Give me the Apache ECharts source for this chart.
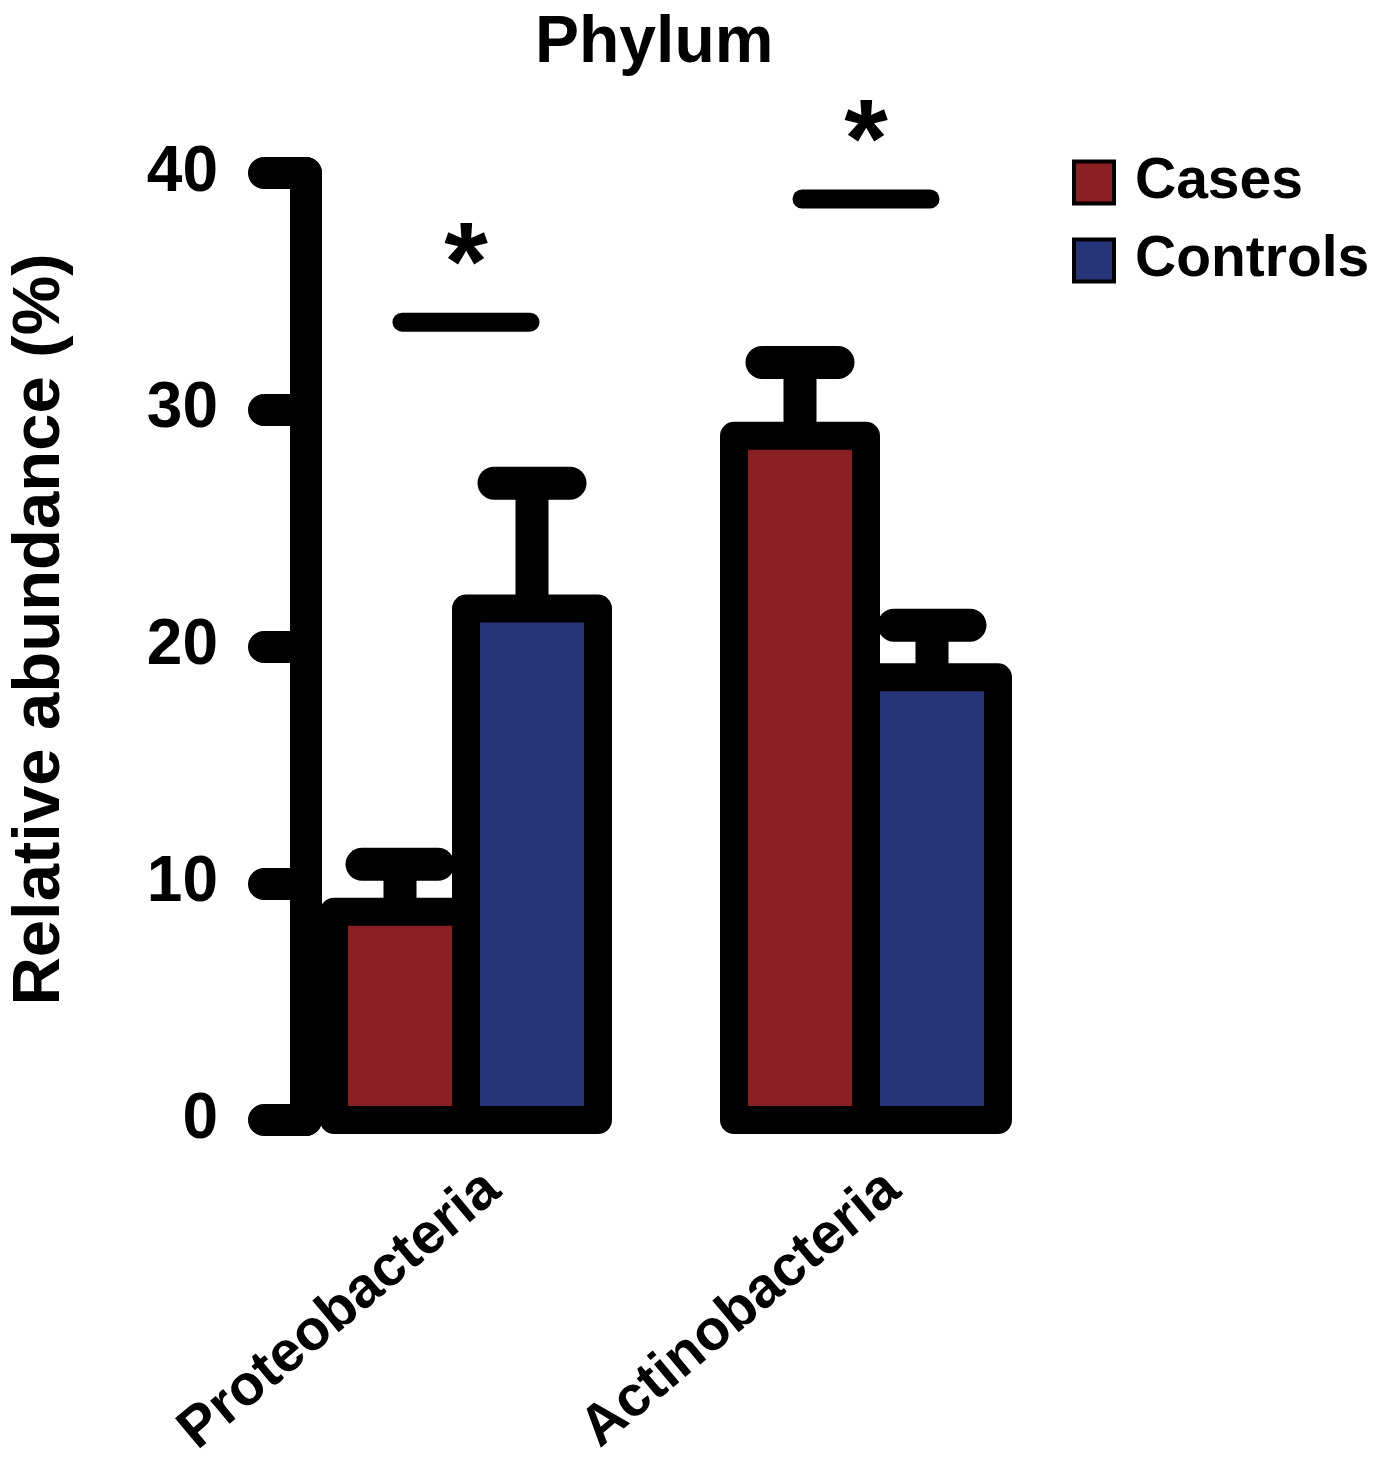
<!DOCTYPE html>
<html>
<head>
    <meta charset="UTF-8">
    <title>Phylum</title>
    <script src="https://cdn.jsdelivr.net/npm/echarts@6/dist/echarts.min.js"></script>
    <style>
        html, body { margin: 0; padding: 0; background: #fff; }
        #main { width: 1378px; height: 1460px; }
    </style>
</head>
<body>
<div id="main"></div>
<script>
    // data
    var categories = ['Proteobacteria', 'Actinobacteria'];
    var casesMean = [8.8, 28.9];
    var casesUpper = [10.8, 32.0];
    var controlsMean = [21.6, 18.7];
    var controlsUpper = [26.9, 20.9];
    var sigLevel = [33.7, 38.9];
    var yTicks = [0, 10, 20, 30, 40];

    var FONT = 'Liberation Sans, Arial, sans-serif';
    var BAR_W = 132;

    // bar with a thick outline centred on its edges, like the original plot
    function barRenderer(shift, fill) {
        return function (params, api) {
            var c = api.value(0);
            var top = api.coord([c, api.value(1)]);
            var base = api.coord([c, 0]);
            var x = top[0] + shift;
            return {
                type: 'rect',
                shape: { x: x - BAR_W / 2, y: top[1], width: BAR_W, height: base[1] - top[1] },
                style: { fill: fill, stroke: '#000', lineWidth: 28, lineJoin: 'round' }
            };
        };
    }

    // error bar: stem from mean to upper plus a round-capped whisker
    function errorRenderer(shift) {
        return function (params, api) {
            var c = api.value(0);
            var top = api.coord([c, api.value(2)]);
            var base = api.coord([c, api.value(1)]);
            var x = top[0] + shift;
            return {
                type: 'group',
                children: [
                    {
                        type: 'line',
                        shape: { x1: x, y1: base[1], x2: x, y2: top[1] },
                        style: { stroke: '#000', lineWidth: 33, lineCap: 'butt' }
                    },
                    {
                        type: 'line',
                        shape: { x1: x - 38, y1: top[1], x2: x + 38, y2: top[1] },
                        style: { stroke: '#000', lineWidth: 33, lineCap: 'round' }
                    }
                ]
            };
        };
    }

    function sigRenderer(params, api) {
        var p = api.coord([api.value(0), api.value(1)]);
        return {
            type: 'group',
            children: [
                {
                    type: 'line',
                    shape: { x1: p[0] - 64, y1: p[1], x2: p[0] + 64, y2: p[1] },
                    style: { stroke: '#000', lineWidth: 19, lineCap: 'round' }
                },
                {
                    type: 'text',
                    x: p[0],
                    y: p[1] - 53,
                    style: {
                        text: '*',
                        fill: '#000',
                        font: 'bold 112px ' + FONT,
                        textAlign: 'center',
                        textVerticalAlign: 'middle'
                    }
                }
            ]
        };
    }

    var myChart = echarts.init(document.getElementById('main'));

    var option = {
        backgroundColor: '#fff',
        animation: false,
        title: {
            text: 'Phylum',
            left: 530,
            top: 6,
            textStyle: { fontFamily: FONT, fontSize: 66, fontWeight: 'bold', color: '#000' }
        },
        legend: {
            data: ['Cases', 'Controls'],
            orient: 'vertical',
            left: 1067,
            top: 149,
            icon: 'rect',
            itemWidth: 40,
            itemHeight: 42,
            itemGap: 21,
            itemStyle: { borderColor: '#000', borderWidth: 4 },
            textStyle: {
                fontFamily: FONT, fontSize: 57, fontWeight: 'bold', color: '#000',
                padding: [0, 0, 0, 16]
            }
        },
        grid: {
            left: 266,
            width: 800,
            top: 173,
            bottom: 340,
            containLabel: false,
            outerBoundsMode: 'none'
        },
        xAxis: {
            type: 'category',
            data: categories,
            axisLine: { show: false },
            axisTick: { show: false },
            axisLabel: {
                interval: 0,
                rotate: 40,
                margin: 30,
                verticalAlign: 'top',
                lineHeight: 84,
                fontFamily: FONT,
                fontSize: 57,
                fontWeight: 'bold',
                color: '#000'
            }
        },
        yAxis: {
            type: 'value',
            min: yTicks[0],
            max: yTicks[yTicks.length - 1],
            interval: 10,
            offset: -40,
            name: 'Relative abundance (%)',
            nameLocation: 'middle',
            nameGap: 232,
            nameTextStyle: {
                fontFamily: FONT, fontSize: 67, fontWeight: 'bold', color: '#000',
                padding: [0, 0, 0, 34]
            },
            axisLine: { show: true, lineStyle: { color: '#000', width: 32, cap: 'round' } },
            axisTick: { show: true, length: 42, lineStyle: { color: '#000', width: 32, cap: 'round' } },
            splitLine: { show: false },
            axisLabel: {
                margin: 88,
                fontFamily: FONT,
                fontSize: 64,
                fontWeight: 'bold',
                color: '#000'
            }
        },
        series: [
            {
                name: 'Cases',
                type: 'custom',
                renderItem: barRenderer(-BAR_W / 2, '#8A1F23'),
                itemStyle: { color: '#8A1F23' },
                data: categories.map(function (c, i) { return [i, casesMean[i]]; }),
                z: 2
            },
            {
                name: 'Controls',
                type: 'custom',
                renderItem: barRenderer(BAR_W / 2, '#263577'),
                itemStyle: { color: '#263577' },
                data: categories.map(function (c, i) { return [i, controlsMean[i]]; }),
                z: 2
            },
            {
                type: 'custom',
                renderItem: errorRenderer(-BAR_W / 2),
                data: categories.map(function (c, i) { return [i, casesMean[i], casesUpper[i]]; }),
                z: 3
            },
            {
                type: 'custom',
                renderItem: errorRenderer(BAR_W / 2),
                data: categories.map(function (c, i) { return [i, controlsMean[i], controlsUpper[i]]; }),
                z: 3
            },
            {
                type: 'custom',
                renderItem: sigRenderer,
                data: categories.map(function (c, i) { return [i, sigLevel[i]]; }),
                z: 3
            }
        ]
    };

    myChart.setOption(option);
</script>
</body>
</html>
